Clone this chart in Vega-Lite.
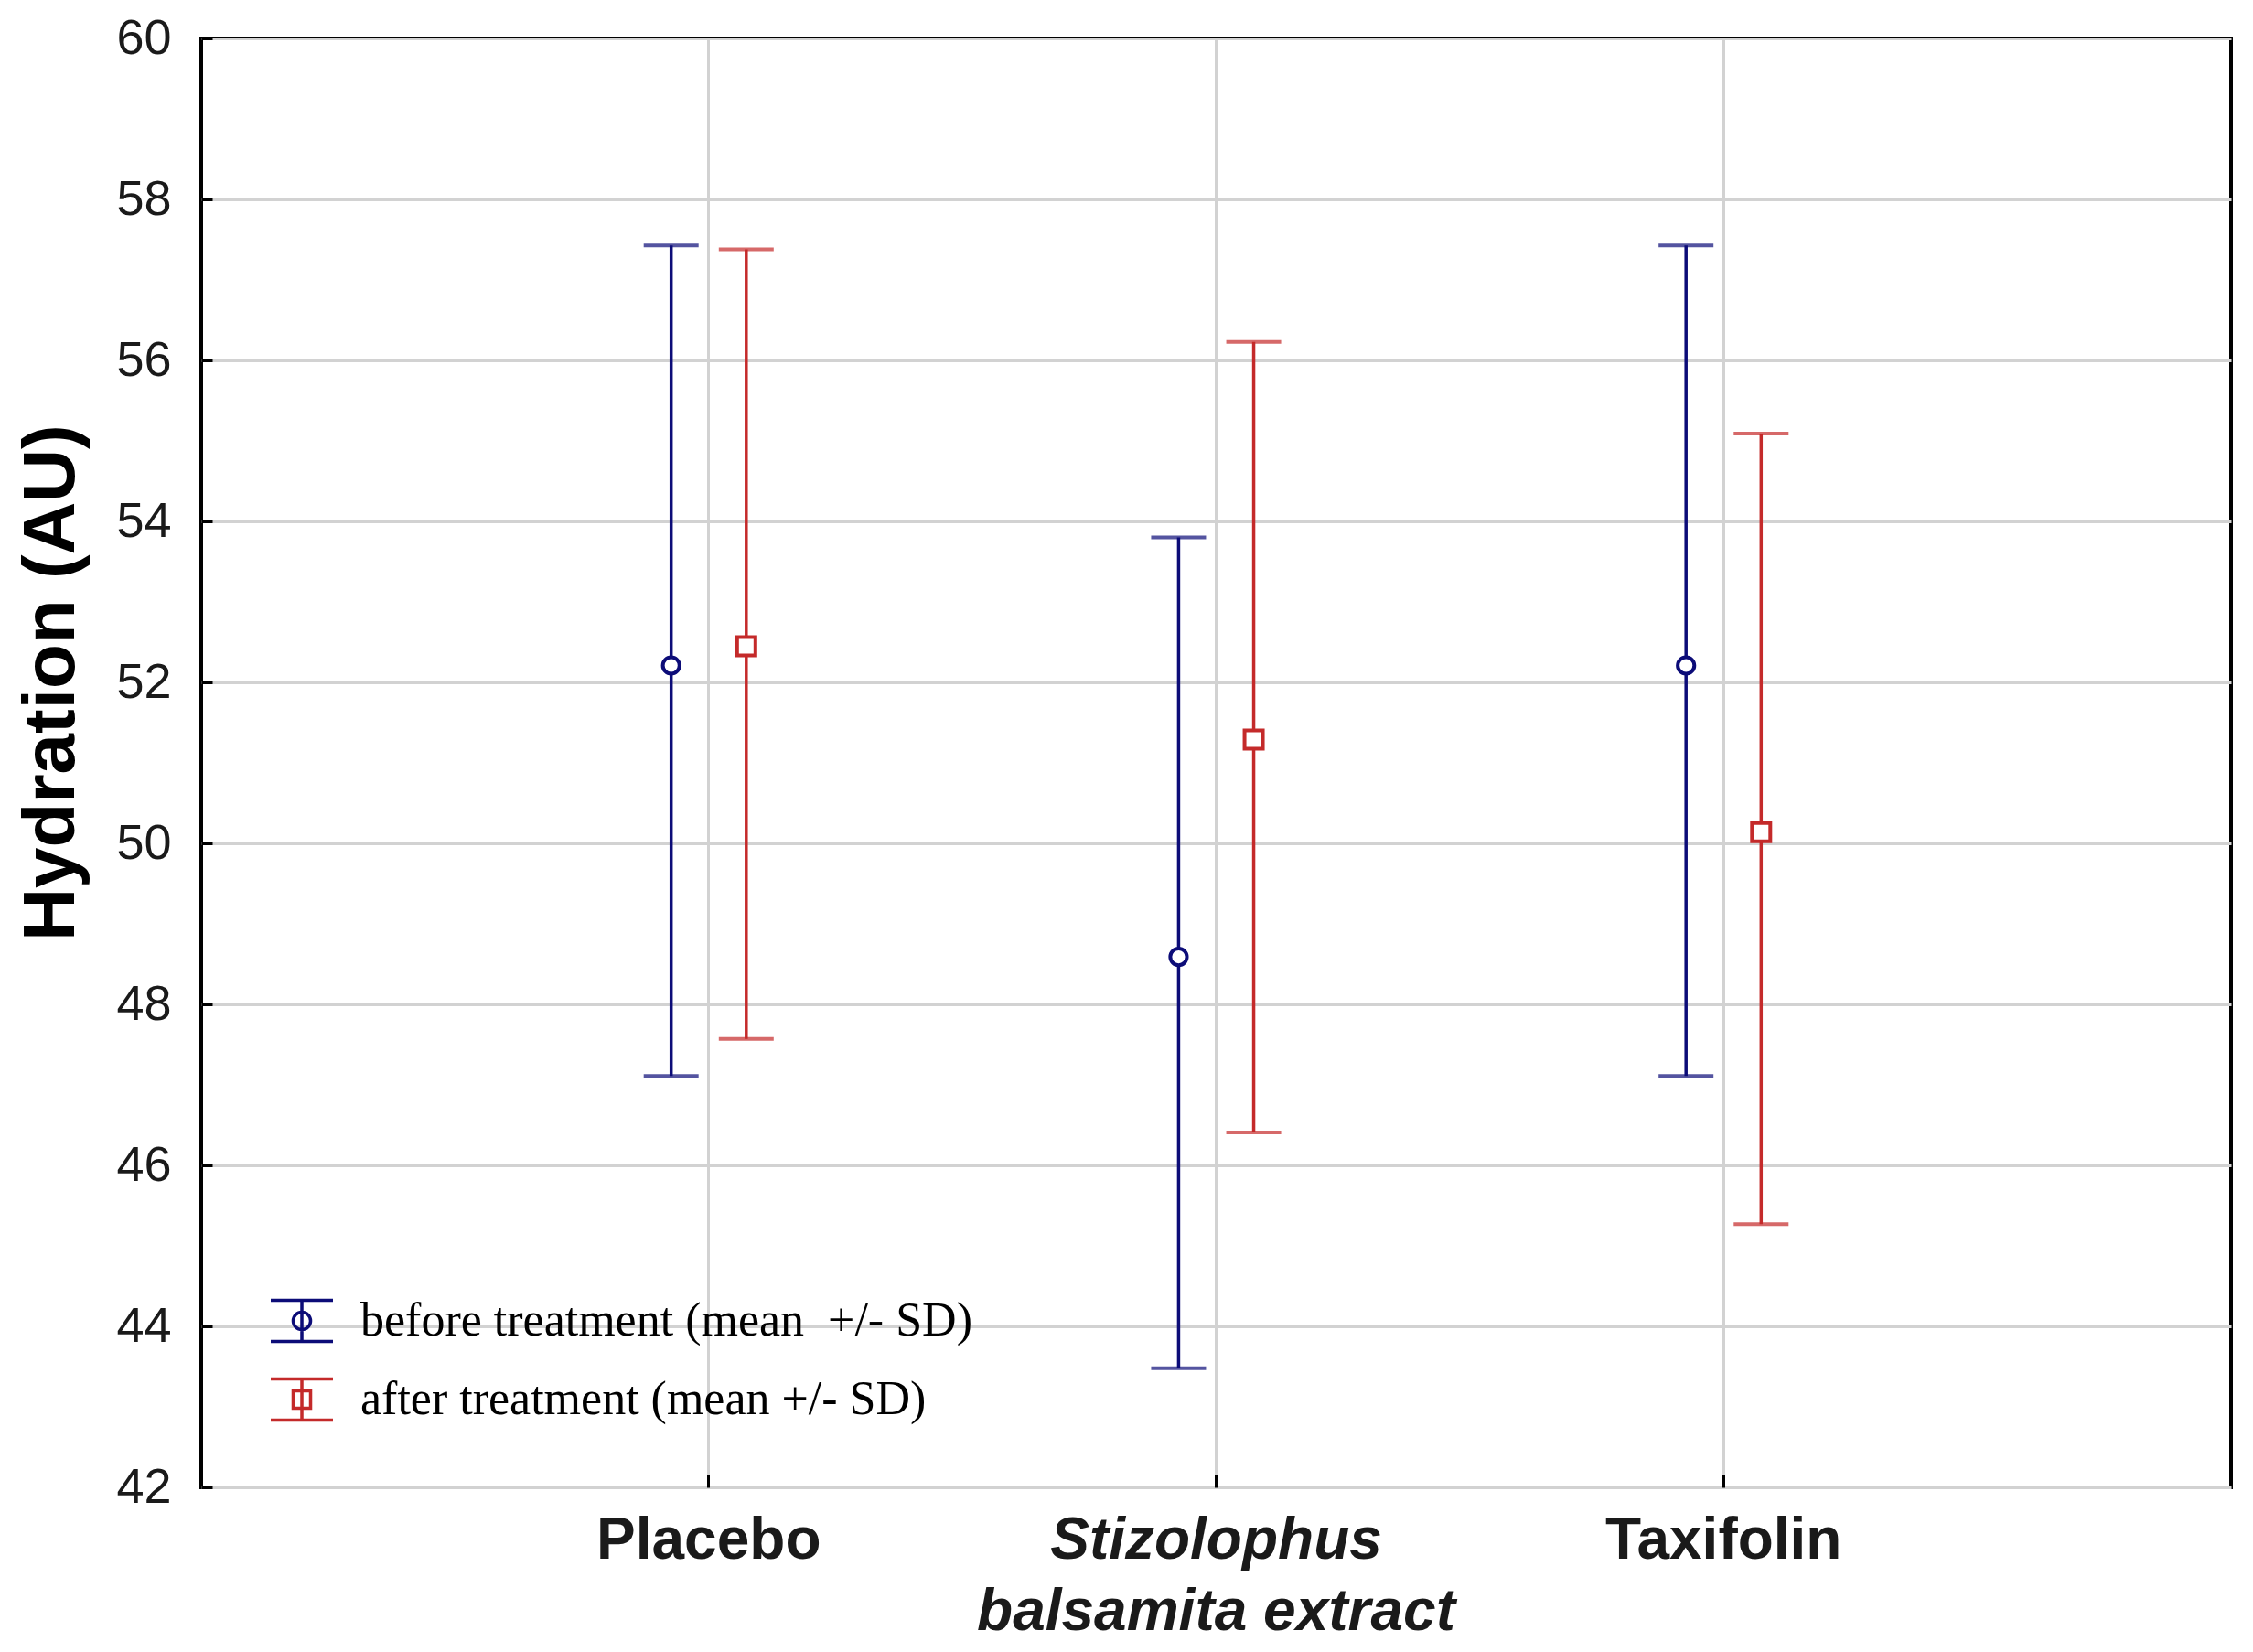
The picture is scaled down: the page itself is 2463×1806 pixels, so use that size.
{
  "$schema": "https://vega.github.io/schema/vega-lite/v6.json",
  "width": 2219,
  "height": 1584,
  "autosize": {"type": "none"},
  "padding": {"left": 220, "top": 42, "right": 24, "bottom": 180},
  "background": "white",
  "data": {
    "values": [
      {"group": "Placebo", "series": "before treatment (mean \u00a0+/- SD)", "mean": 52.21, "low": 47.11, "high": 57.43},
      {"group": "Placebo", "series": "after treatment (mean +/- SD)", "mean": 52.45, "low": 47.57, "high": 57.38},
      {"group": "Stizolophus balsamita extract", "series": "before treatment (mean \u00a0+/- SD)", "mean": 48.59, "low": 43.48, "high": 53.80},
      {"group": "Stizolophus balsamita extract", "series": "after treatment (mean +/- SD)", "mean": 51.29, "low": 46.41, "high": 56.23},
      {"group": "Taxifolin", "series": "before treatment (mean \u00a0+/- SD)", "mean": 52.21, "low": 47.11, "high": 57.43},
      {"group": "Taxifolin", "series": "after treatment (mean +/- SD)", "mean": 50.14, "low": 45.27, "high": 55.09}
    ]
  },
  "encoding": {
    "x": {
      "field": "group", "type": "nominal",
      "sort": ["Placebo", "Stizolophus balsamita extract", "Taxifolin"],
      "scale": {"type": "band", "paddingInner": 0.704, "paddingOuter": 0.852},
      "title": null,
      "axis": {
        "labelAngle": 0,
        "labelFontSize": 64,
        "labelFontWeight": "bold",
        "labelFontStyle": {"condition": {"test": "datum.value === 'Stizolophus balsamita extract'", "value": "italic"}, "value": "normal"},
        "labelExpr": "datum.value === 'Stizolophus balsamita extract' ? ['Stizolophus', 'balsamita extract'] : datum.value",
        "labelLineHeight": 78,
        "labelBaseline": "top",
        "labelPadding": 40,
        "tickSize": -14,
        "labelLimit": 0
      }
    },
    "xOffset": {
      "field": "series", "type": "nominal",
      "sort": ["before treatment (mean \u00a0+/- SD)", "after treatment (mean +/- SD)"],
      "scale": {"paddingInner": 0, "paddingOuter": 0}
    }
  },
  "layer": [
    {
      "mark": {"type": "rule", "strokeWidth": 3.5},
      "encoding": {
        "y": {
          "field": "low", "type": "quantitative",
          "scale": {"domain": [42, 60], "nice": false, "zero": false},
          "title": "Hydration (AU)",
          "axis": {
            "values": [42, 44, 46, 48, 50, 52, 54, 56, 58, 60],
            "format": "d",
            "labelFontSize": 54,
            "labelPadding": 45,
            "tickSize": -12,
            "titleFontSize": 80,
            "titleFontWeight": "bold",
            "titleAngle": -90,
            "titleAlign": "center",
            "titleBaseline": "alphabetic",
            "titleX": -140,
            "titleY": 704
          }
        },
        "y2": {"field": "high"},
        "stroke": {
          "field": "series", "type": "nominal",
          "scale": {"domain": ["after treatment (mean +/- SD)", "before treatment (mean \u00a0+/- SD)"], "range": ["#c42a2a", "#0c0c78"]},
          "legend": null
        }
      }
    },
    {
      "mark": {"type": "tick", "size": 60, "thickness": 4, "orient": "horizontal"},
      "encoding": {
        "y": {"field": "low", "type": "quantitative", "title": "Hydration (AU)"},
        "fill": {
          "field": "series", "type": "nominal",
          "scale": {"domain": ["after treatment (mean +/- SD)", "before treatment (mean \u00a0+/- SD)"], "range": ["#c42a2a", "#0c0c78"]},
          "legend": null
        }
      }
    },
    {
      "mark": {"type": "tick", "size": 60, "thickness": 4, "orient": "horizontal"},
      "encoding": {
        "y": {"field": "high", "type": "quantitative", "title": "Hydration (AU)"},
        "fill": {
          "field": "series", "type": "nominal",
          "scale": {"domain": ["after treatment (mean +/- SD)", "before treatment (mean \u00a0+/- SD)"], "range": ["#c42a2a", "#0c0c78"]},
          "legend": null
        }
      }
    },
    {
      "transform": [{"filter": {"field": "series", "equal": "before treatment (mean \u00a0+/- SD)"}}],
      "mark": {"type": "point", "shape": "circle", "filled": true, "fill": "white", "size": 330, "strokeWidth": 4, "opacity": 1},
      "encoding": {
        "y": {"field": "mean", "type": "quantitative", "title": "Hydration (AU)"},
        "stroke": {
          "field": "series", "type": "nominal",
          "scale": {"domain": ["after treatment (mean +/- SD)", "before treatment (mean \u00a0+/- SD)"], "range": ["#c42a2a", "#0c0c78"]},
          "legend": null
        }
      }
    },
    {
      "transform": [{"filter": {"field": "series", "equal": "after treatment (mean +/- SD)"}}],
      "mark": {"type": "point", "shape": "square", "filled": true, "fill": "white", "size": 400, "strokeWidth": 4, "opacity": 1},
      "encoding": {
        "y": {"field": "mean", "type": "quantitative", "title": "Hydration (AU)"},
        "stroke": {
          "field": "series", "type": "nominal",
          "scale": {"domain": ["after treatment (mean +/- SD)", "before treatment (mean \u00a0+/- SD)"], "range": ["#c42a2a", "#0c0c78"]},
          "legend": null
        }
      }
    },
    {
      "mark": {"type": "point", "filled": false, "opacity": 0, "strokeWidth": 3, "size": 4624},
      "encoding": {
        "y": {"field": "mean", "type": "quantitative", "title": "Hydration (AU)"},
        "color": {
          "field": "series", "type": "nominal",
          "scale": {"domain": ["before treatment (mean \u00a0+/- SD)", "after treatment (mean +/- SD)"], "range": ["#0c0c78", "#c42a2a"]},
          "legend": {
            "title": null, "orient": "none", "legendX": 74, "legendY": 1366, "padding": 0,
            "symbolSize": 4624, "symbolStrokeWidth": 3.5, "symbolOpacity": 1,
            "labelFont": "Liberation Serif", "labelFontSize": 52, "labelColor": "black",
            "labelOffset": 28, "rowPadding": 20, "labelLimit": 0
          }
        },
        "shape": {
          "field": "series", "type": "nominal",
          "scale": {
            "domain": ["before treatment (mean \u00a0+/- SD)", "after treatment (mean +/- SD)"],
            "range": [
              "M-1,-0.66H1M-1,0.66H1M0,-0.66V0.66M-0.28,0A0.28,0.28,0,1,0,0.28,0A0.28,0.28,0,1,0,-0.28,0",
              "M-1,-0.66H1M-1,0.66H1M0,-0.66V0.66M-0.28,-0.28H0.28V0.28H-0.28Z"
            ]
          },
          "legend": {
            "title": null, "orient": "none", "legendX": 74, "legendY": 1366, "padding": 0,
            "symbolSize": 4624, "symbolStrokeWidth": 3.5, "symbolOpacity": 1,
            "labelFont": "Liberation Serif", "labelFontSize": 52, "labelColor": "black",
            "labelOffset": 28, "rowPadding": 20, "labelLimit": 0
          }
        }
      }
    }
  ],
  "config": {
    "view": {"stroke": "black", "strokeWidth": 4},
    "axis": {
      "labelFont": "Liberation Sans",
      "titleFont": "Liberation Sans",
      "labelColor": "#1a1a1a",
      "titleColor": "black",
      "domain": false,
      "grid": true,
      "gridColor": "#d2d2d2",
      "gridWidth": 3,
      "tickColor": "black",
      "tickWidth": 3
    }
  }
}
